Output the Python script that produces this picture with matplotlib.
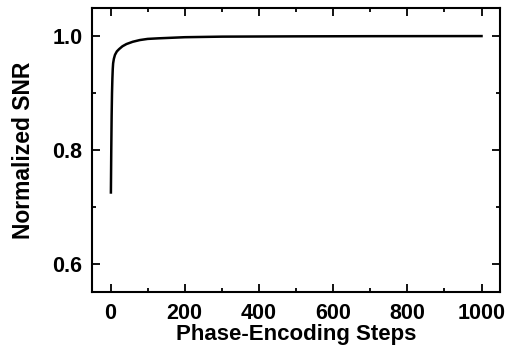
import matplotlib
matplotlib.use("Agg")
import matplotlib.pyplot as plt
from matplotlib.ticker import MultipleLocator

# values
steps = [1, 2, 3, 4, 5, 6, 7, 9, 12, 17, 23, 32, 43, 60, 79, 100, 128, 200, 300, 500, 700, 1000]
snr = [0.725, 0.80, 0.86, 0.90, 0.925, 0.942, 0.952, 0.960, 0.967, 0.973, 0.977, 0.982,
       0.986, 0.990, 0.993, 0.995, 0.996, 0.998, 0.999, 0.9995, 0.9998, 1.0]

plt.rcParams['font.family'] = ['Liberation Sans', 'DejaVu Sans']
plt.rcParams['font.weight'] = 'bold'

fig = plt.figure(figsize=(5.15, 3.47), dpi=100)
ax = fig.add_axes([0.1786, 0.1585, 0.971 - 0.1786, 0.978 - 0.1585])

ax.plot(steps, snr, color="black", lw=1.8)

ax.set_xlim(-50, 1050)
ax.set_ylim(0.55, 1.05)
ax.xaxis.set_major_locator(MultipleLocator(200))
ax.xaxis.set_minor_locator(MultipleLocator(100))
ax.yaxis.set_major_locator(MultipleLocator(0.2))
ax.yaxis.set_minor_locator(MultipleLocator(0.1))
ax.yaxis.set_major_formatter(plt.FormatStrFormatter('%.1f'))

ax.tick_params(which="both", direction="in", top=True, right=True, width=1.3,
               labelsize=15.5)
ax.tick_params(axis="x", pad=8)
ax.tick_params(axis="y", pad=7)
ax.tick_params(which="major", length=6)
ax.tick_params(which="minor", length=3)
for s in ax.spines.values():
    s.set_linewidth(1.5)

ax.set_xlabel("Phase-Encoding Steps", fontsize=16, fontweight="bold", labelpad=0)
ax.set_ylabel("Normalized SNR", fontsize=16.5, fontweight="bold", labelpad=12)

fig.savefig("out.png", dpi=100)
